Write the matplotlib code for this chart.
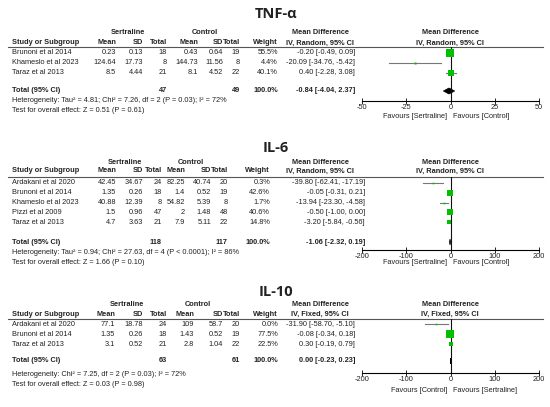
import numpy as np
import matplotlib
matplotlib.use('Agg')
import matplotlib.pyplot as plt

plt.rcParams['font.family'] = ['Liberation Sans', 'DejaVu Sans']

W, H = 550, 407

# ---- TNF-alpha ----
tnf_studies = ['Brunoni et al 2014', 'Khameslo et al 2023', 'Taraz et al 2013']
tnf_s_mean = ['0.23', '124.64', '8.5']
tnf_s_sd = ['0.13', '17.73', '4.44']
tnf_s_n = [18, 8, 21]
tnf_c_mean = ['0.43', '144.73', '8.1']
tnf_c_sd = ['0.64', '11.56', '4.52']
tnf_c_n = [19, 8, 22]
tnf_weight = [55.5, 4.4, 40.1]
tnf_md = [-0.20, -20.09, 0.40]
tnf_lo = [-0.49, -34.76, -2.28]
tnf_hi = [0.09, -5.42, 3.08]
tnf_total = (-0.84, -4.04, 2.37)
tnf_het = 'Heterogeneity: Tau² = 4.81; Chi² = 7.26, df = 2 (P = 0.03); I² = 72%'
tnf_test = 'Test for overall effect: Z = 0.51 (P = 0.61)'

# ---- IL-6 ----
il6_studies = ['Ardakani et al 2020', 'Brunoni et al 2014', 'Khameslo et al 2023',
               'Pizzi et al 2009', 'Taraz et al 2013']
il6_s_mean = ['42.45', '1.35', '40.88', '1.5', '4.7']
il6_s_sd = ['34.67', '0.26', '12.39', '0.96', '3.63']
il6_s_n = [24, 18, 8, 47, 21]
il6_c_mean = ['82.25', '1.4', '54.82', '2', '7.9']
il6_c_sd = ['40.74', '0.52', '5.39', '1.48', '5.11']
il6_c_n = [20, 19, 8, 48, 22]
il6_weight = [0.3, 42.6, 1.7, 40.6, 14.8]
il6_md = [-39.80, -0.05, -13.94, -0.50, -3.20]
il6_lo = [-62.41, -0.31, -23.30, -1.00, -5.84]
il6_hi = [-17.19, 0.21, -4.58, 0.00, -0.56]
il6_total = (-1.06, -2.32, 0.19)
il6_het = 'Heterogeneity: Tau² = 0.94; Chi² = 27.63, df = 4 (P < 0.0001); I² = 86%'
il6_test = 'Test for overall effect: Z = 1.66 (P = 0.10)'

# ---- IL-10 ----
il10_studies = ['Ardakani et al 2020', 'Brunoni et al 2014', 'Taraz et al 2013']
il10_s_mean = ['77.1', '1.35', '3.1']
il10_s_sd = ['18.78', '0.26', '0.52']
il10_s_n = [24, 18, 21]
il10_c_mean = ['109', '1.43', '2.8']
il10_c_sd = ['58.7', '0.52', '1.04']
il10_c_n = [20, 19, 22]
il10_weight = [0.0, 77.5, 22.5]
il10_md = [-31.90, -0.08, 0.30]
il10_lo = [-58.70, -0.34, -0.19]
il10_hi = [-5.10, 0.18, 0.79]
il10_total = (0.00, -0.23, 0.23)
il10_het = 'Heterogeneity: Chi² = 7.25, df = 2 (P = 0.03); I² = 72%'
il10_test = 'Test for overall effect: Z = 0.03 (P = 0.98)'

FS = 5.3
TXT = '#222222'
GREEN = '#00c000'

fig = plt.figure(figsize=(W / 100, H / 100), dpi=100)
bg = fig.add_axes([0, 0, 1, 1])
bg.set_xlim(0, W)
bg.set_ylim(H, 0)
bg.axis('off')


def t(x, y, s, ha='left', bold=False, size=FS, **kw):
    bg.text(x, y, s, ha=ha, va='center', fontsize=size, color=TXT,
            fontweight='bold' if bold else 'normal', **kw)


def fmt_ci(m, l, h):
    return f'{m:.2f} [{l:.2f}, {h:.2f}]'


def draw_panel(title, studies, s_mean, s_sd, s_n, c_mean, c_sd, c_n, weight,
               md, lo, hi, total, het, test, model, xmax, ticks, fav_left, fav_right,
               lay, cols):
    # cols: mean, sd, total, c_mean, c_sd, c_total, weight, md_right, sert_c, ctrl_c
    cm, csd, cn, ccm, ccsd, ccn, cw, cmd, sc, cc = cols
    t(276, lay['title'], title, ha='center', bold=True, size=10.5,
      family=['Open Sans', 'DejaVu Sans'])
    h1, h2 = lay['h1'], lay['h2']
    t(sc, h1, 'Sertraline', ha='center', bold=True)
    t(cc, h1, 'Control', ha='center', bold=True)
    t(320, h1, 'Mean Difference', ha='center', bold=True)
    t(450, h1, 'Mean Difference', ha='center', bold=True)
    t(12, h2, 'Study or Subgroup', bold=True)
    for x, s in [(cm, 'Mean'), (csd, 'SD'), (cn, 'Total'), (ccm, 'Mean'),
                 (ccsd, 'SD'), (ccn, 'Total'), (cw, 'Weight')]:
        t(x, h2, s, ha='right', bold=True)
    t(320, h2, f'IV, {model}, 95% CI', ha='center', bold=True)
    t(450, h2, f'IV, {model}, 95% CI', ha='center', bold=True)
    bg.plot([8, 543], [lay['line'], lay['line']], color='#555555', lw=0.8)

    for i, name in enumerate(studies):
        y = lay['rows'][i]
        t(12, y, name)
        t(cm, y, s_mean[i], ha='right')
        t(csd, y, s_sd[i], ha='right')
        t(cn, y, str(s_n[i]), ha='right')
        t(ccm, y, c_mean[i], ha='right')
        t(ccsd, y, c_sd[i], ha='right')
        t(ccn, y, str(c_n[i]), ha='right')
        t(cw, y, f'{weight[i]:.1f}%', ha='right')
        t(cmd, y, fmt_ci(md[i], lo[i], hi[i]), ha='right')

    yt = lay['total']
    t(12, yt, 'Total (95% CI)', bold=True)
    t(cn, yt, str(sum(s_n)), ha='right', bold=True)
    t(ccn, yt, str(sum(c_n)), ha='right', bold=True)
    t(cw, yt, '100.0%', ha='right', bold=True)
    t(cmd, yt, fmt_ci(*total), ha='right', bold=True)
    t(12, lay['het'], het)
    t(12, lay['test'], test)

    # forest plot
    x0, x1 = 362, 539
    top, bot = lay['line'], lay['axis']
    ax = fig.add_axes([x0 / W, 1 - bot / H, (x1 - x0) / W, (bot - top) / H])
    ax.set_xlim(-xmax, xmax)
    ax.set_ylim(bot, top)
    ax.patch.set_alpha(0)
    for sp in ['left', 'right', 'top']:
        ax.spines[sp].set_visible(False)
    ax.spines['bottom'].set_linewidth(0.8)
    ax.set_yticks([])
    ax.set_xticks(ticks)
    ax.set_xticklabels([str(v) for v in ticks])
    ax.tick_params(axis='x', direction='inout', length=4, width=0.7,
                   labelsize=FS, pad=0.5, colors=TXT)
    ax.axvline(0, color='#111111', lw=0.8)
    for i in range(len(studies)):
        y = lay['rows'][i]
        ax.plot([lo[i], hi[i]], [y, y], color='#777777', lw=0.8)
        side = max(1.6, 0.95 * np.sqrt(weight[i]))
        ax.plot(md[i], y, marker='s', ms=side * 0.72, color=GREEN, mew=0)
    m, l, h = total
    ax.fill([l, m, h, m], [yt, yt - 3, yt, yt + 3], color='black', lw=0.5,
            edgecolor='black')
    t(447, lay['fav'], fav_left, ha='right')
    t(453, lay['fav'], fav_right, ha='left')


draw_panel('TNF-α', tnf_studies, tnf_s_mean, tnf_s_sd, tnf_s_n, tnf_c_mean, tnf_c_sd,
           tnf_c_n, tnf_weight, tnf_md, tnf_lo, tnf_hi, tnf_total, tnf_het, tnf_test,
           'Random', 50, [-50, -25, 0, 25, 50],
           'Favours [Sertraline]', 'Favours [Control]',
           dict(title=14, h1=32, h2=43, line=47, rows=[53, 63, 73], total=91,
                het=101, test=111, axis=101, fav=117),
           (116, 143, 167, 198, 223, 240, 278, 355, 128, 205))

draw_panel('IL-6', il6_studies, il6_s_mean, il6_s_sd, il6_s_n, il6_c_mean, il6_c_sd,
           il6_c_n, il6_weight, il6_md, il6_lo, il6_hi, il6_total, il6_het, il6_test,
           'Random', 200, [-200, -100, 0, 100, 200],
           'Favours [Sertraline]', 'Favours [Control]',
           dict(title=148, h1=162, h2=171, line=177, rows=[183, 193, 203, 212, 222],
                total=242, het=252, test=262, axis=250, fav=263),
           (116, 143, 162, 185, 211, 228, 270, 365, 125, 191))

draw_panel('IL-10', il10_studies, il10_s_mean, il10_s_sd, il10_s_n, il10_c_mean,
           il10_c_sd, il10_c_n, il10_weight, il10_md, il10_lo, il10_hi, il10_total,
           il10_het, il10_test, 'Fixed', 200, [-200, -100, 0, 100, 200],
           'Favours [Control]', 'Favours [Sertraline]',
           dict(title=292, h1=304, h2=314, line=319, rows=[324, 334, 344], total=361,
                het=375, test=385, axis=373, fav=390),
           (115, 143, 167, 194, 223, 240, 278, 355, 127, 198))

fig.savefig('out.png', dpi=100, facecolor='white')
